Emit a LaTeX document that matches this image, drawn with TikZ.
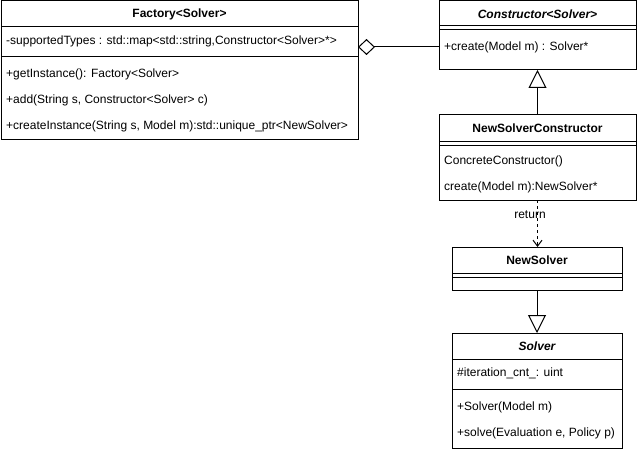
\documentclass[tikz,border=0pt]{standalone}
\usepackage{fontspec}
\setmainfont{Liberation Sans}
\usetikzlibrary{arrows.meta}
\begin{document}
\begin{tikzpicture}[x=1pt,y=-1pt,
  box/.style={draw, line width=1pt, rectangle, inner sep=0pt, outer sep=0pt, anchor=north west},
  ttl/.style={inner sep=0pt, font=\fontsize{12pt}{14pt}\selectfont\bfseries},
  itl/.style={inner sep=0pt, font=\fontsize{12pt}{14pt}\selectfont\bfseries\itshape},
  txt/.style={inner sep=0pt, anchor=west, font=\fontsize{12pt}{14pt}\selectfont},
  lbl/.style={inner sep=0pt, font=\fontsize{12pt}{14pt}\selectfont},
  sep/.style={line width=1pt},
  conn/.style={line width=1pt},
]
\useasboundingbox[fill=white] (0,0) rectangle (638,452);

% Factory<Solver>
\node[box, minimum width=357pt, minimum height=138pt] (F) at (1,1) {};
\draw[sep] (F.west |- 0,27) -- (F.east |- 0,27);
\draw[sep] (F.west |- 0,57) -- (F.east |- 0,57);
\node[ttl] (Ft) at (F.north |- 0,14) {Factory<Solver>};
\node[txt] (Fa) at (6,41) {-supportedTypes : std::map<std::string,Constructor<Solver>*>};
\node[txt] (Fm1) at (6,74) {+getInstance(): Factory<Solver>};
\node[txt] (Fm2) at (6,100) {+add(String s, Constructor<Solver> c)};
\node[txt] (Fm3) at (6,126) {+createInstance(String s, Model m):std::unique\_ptr<NewSolver>};

% Constructor<Solver>
\node[box, minimum width=197pt, minimum height=69pt] (C) at (439,1) {};
\draw[sep] (C.west |- 0,26) -- (C.east |- 0,26);
\draw[sep] (C.west |- 0,30) -- (C.east |- 0,30);
\node[itl] (Ct) at (C.north |- 0,14) {Constructor<Solver>};
\node[txt] (Cm) at (444,47) {+create(Model m) : Solver*};

% NewSolverConstructor
\node[box, minimum width=197pt, minimum height=85pt] (NSC) at (439,115) {};
\draw[sep] (NSC.west |- 0,141) -- (NSC.east |- 0,141);
\draw[sep] (NSC.west |- 0,145) -- (NSC.east |- 0,145);
\node[ttl] (NSCt) at (NSC.north |- 0,128) {NewSolverConstructor};
\node[txt] (NSCm1) at (444,161) {ConcreteConstructor()};
\node[txt] (NSCm2) at (444,187) {create(Model m):NewSolver*};

% NewSolver
\node[box, minimum width=170pt, minimum height=43pt] (NS) at (452,247) {};
\draw[sep] (NS.west |- 0,273) -- (NS.east |- 0,273);
\draw[sep] (NS.west |- 0,277) -- (NS.east |- 0,277);
\node[ttl] (NSt) at (NS.north |- 0,260) {NewSolver};

% Solver
\node[box, minimum width=170pt, minimum height=115pt] (S) at (452,333) {};
\draw[sep] (S.west |- 0,359) -- (S.east |- 0,359);
\draw[sep] (S.west |- 0,389) -- (S.east |- 0,389);
\node[itl] (St) at (S.north |- 0,346) {Solver};
\node[txt] (Sa) at (457,373) {\#iteration\_cnt\_: uint};
\node[txt] (Sm1) at (457,407) {+Solver(Model m)};
\node[txt] (Sm2) at (457,433) {+solve(Evaluation e, Policy p)};

% connectors
\draw[conn, -{Diamond[open, length=17pt, width=16pt]}] (Cm -| C.west) -- (Cm -| F.east);
\draw[conn, -{Triangle[open, length=18pt, width=18pt]}] (NSC.north) -- (C.south);
\draw[conn, dash pattern=on 3pt off 3pt, -{Straight Barb[length=6pt, width=9pt]}] (NSC.south) -- (NSC.south |- NS.north);
\node[lbl] (ret) at (530,215) {return};
\draw[conn, -{Triangle[open, length=18pt, width=18pt]}] (NS.south) -- (S.north);
\end{tikzpicture}
\end{document}
